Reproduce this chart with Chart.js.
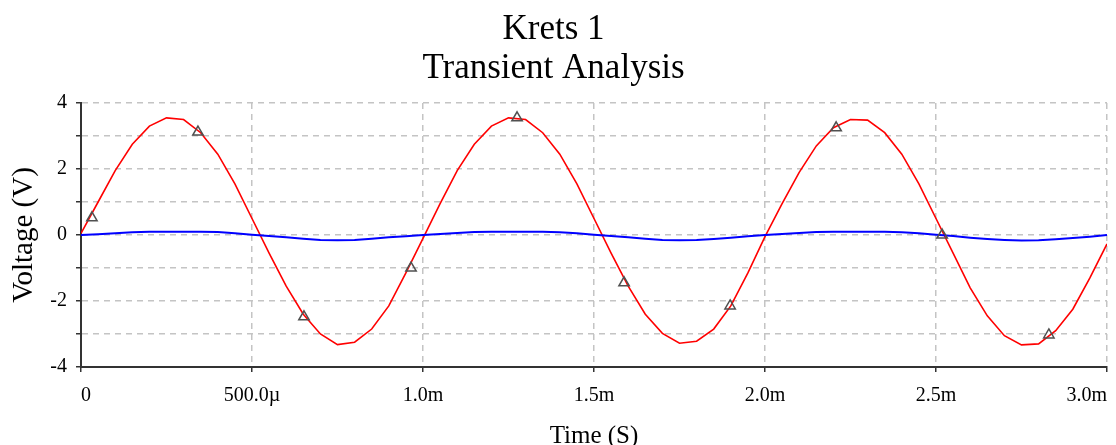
<!DOCTYPE html>
<html>
<head>
<meta charset="utf-8">
<script src="https://cdn.jsdelivr.net/npm/chart.js@4.4.1/dist/chart.umd.min.js"></script>
<style>
  html, body { margin: 0; padding: 0; background: #ffffff; }
  #wrap { width: 1116px; height: 445px; position: relative; }
</style>
</head>
<body>
<div id="wrap"><canvas id="c" width="1116" height="445"></canvas></div>
<script>
// ---- data ----
const TITLE_LINES = ['Krets 1', 'Transient Analysis'];
const X_TITLE = 'Time (S)';
const Y_TITLE = 'Voltage (V)';

// time in milliseconds
const TIME_MS = [
  0.00, 0.05, 0.10, 0.15, 0.20, 0.25, 0.30, 0.35, 0.40, 0.45,
  0.50, 0.55, 0.60, 0.65, 0.70, 0.75, 0.80, 0.85, 0.90, 0.95,
  1.00, 1.05, 1.10, 1.15, 1.20, 1.25, 1.30, 1.35, 1.40, 1.45,
  1.50, 1.55, 1.60, 1.65, 1.70, 1.75, 1.80, 1.85, 1.90, 1.95,
  2.00, 2.05, 2.10, 2.15, 2.20, 2.25, 2.30, 2.35, 2.40, 2.45,
  2.50, 2.55, 2.60, 2.65, 2.70, 2.75, 2.80, 2.85, 2.90, 2.95,
  3.00
];

// red trace (V)
const RED_V = [
  0.05, 1.00, 1.95, 2.75, 3.30, 3.55, 3.50, 3.10, 2.45, 1.55,
  0.50, -0.55, -1.55, -2.40, -3.00, -3.32, -3.25, -2.85, -2.15, -1.15,
  -0.10, 0.95, 1.95, 2.75, 3.30, 3.55, 3.50, 3.10, 2.45, 1.55,
  0.50, -0.55, -1.55, -2.40, -2.98, -3.28, -3.22, -2.85, -2.15, -1.15,
  -0.05, 0.95, 1.90, 2.70, 3.25, 3.50, 3.48, 3.10, 2.45, 1.55,
  0.50, -0.55, -1.60, -2.45, -3.05, -3.33, -3.30, -2.90, -2.25, -1.30,
  -0.27
];

// blue trace (V)
const BLUE_V = [
  0.00, 0.02, 0.05, 0.08, 0.10, 0.10, 0.10, 0.10, 0.09, 0.05,
  0.01, -0.03, -0.07, -0.11, -0.15, -0.16, -0.15, -0.11, -0.07, -0.04,
  0.00, 0.03, 0.06, 0.09, 0.10, 0.10, 0.10, 0.10, 0.08, 0.05,
  0.01, -0.03, -0.07, -0.11, -0.15, -0.16, -0.15, -0.12, -0.08, -0.04,
  0.00, 0.03, 0.06, 0.09, 0.10, 0.10, 0.10, 0.10, 0.08, 0.05,
  0.01, -0.03, -0.08, -0.12, -0.15, -0.17, -0.16, -0.13, -0.09, -0.05,
  0.00
];

// triangle markers on the red trace
const MARKER_TIME_MS = [0.032, 0.342, 0.652, 0.965, 1.275, 1.588, 1.898, 2.208, 2.518, 2.830];
const MARKER_V       = [0.52, 3.12, -2.48, -1.00, 3.55, -1.45, -2.15, 3.25, 0.00, -3.03];

const X_TICK_LABELS = ['0', '500.0\u00b5', '1.0m', '1.5m', '2.0m', '2.5m', '3.0m'];
const Y_LABELED_TICKS = [-4, -2, 0, 2, 4];

// ---- build chart ----
const toPts = (xs, ys) => xs.map((x, i) => ({ x: x, y: ys[i] }));

const SERIF = '"Liberation Serif", "Times New Roman", serif';

const yTitlePlugin = {
  id: 'yTitlePlugin',
  afterDraw(chart) {
    const { ctx, chartArea } = chart;
    ctx.save();
    ctx.translate(24, (chartArea.top + chartArea.bottom) / 2);
    ctx.rotate(-Math.PI / 2);
    ctx.font = '29px ' + SERIF;
    ctx.fillStyle = '#000000';
    ctx.textAlign = 'center';
    ctx.textBaseline = 'middle';
    ctx.fillText(Y_TITLE, 0, 0);
    ctx.restore();
  }
};

new Chart(document.getElementById('c'), {
  type: 'line',
  data: {
    datasets: [
      {
        label: 'markers',
        data: toPts(MARKER_TIME_MS, MARKER_V),
        showLine: false,
        pointStyle: 'triangle',
        pointRadius: 6,
        pointBorderWidth: 1.5,
        pointBorderColor: '#505050',
        pointBackgroundColor: 'rgba(0,0,0,0)',
        order: 0
      },
      {
        label: 'red',
        data: toPts(TIME_MS, RED_V),
        borderColor: '#ff0000',
        borderWidth: 1.6,
        pointRadius: 0,
        tension: 0,
        order: 2
      },
      {
        label: 'blue',
        data: toPts(TIME_MS, BLUE_V),
        borderColor: '#0000ff',
        borderWidth: 2,
        pointRadius: 0,
        tension: 0,
        order: 1
      }
    ]
  },
  options: {
    responsive: false,
    animation: false,
    events: [],
    layout: { padding: { left: 0, right: 9, top: 0, bottom: 0 } },
    plugins: {
      legend: { display: false },
      tooltip: { enabled: false },
      title: {
        display: true,
        text: TITLE_LINES,
        color: '#000000',
        font: { family: SERIF, size: 35, weight: 'normal', lineHeight: 39 / 35 },
        padding: { top: 10, bottom: 15 }
      }
    },
    scales: {
      x: {
        type: 'linear',
        min: 0,
        max: 3,
        afterBuildTicks(scale) {
          scale.ticks = X_TICK_LABELS.map((_, i) => ({ value: i * 0.5 }));
        },
        ticks: {
          autoSkip: false,
          maxRotation: 0,
          align: 'inner',
          padding: 12,
          color: '#000000',
          font: { family: SERIF, size: 20 },
          callback: (v, i) => X_TICK_LABELS[i]
        },
        grid: {
          color: '#c4c4c4',
          lineWidth: 1.5,
          tickLength: 5,
          tickColor: '#333333',
          tickWidth: 1.5,
          tickBorderDash: []
        },
        border: { display: true, color: '#333333', width: 2, dash: [6, 5] },
        title: {
          display: true,
          text: X_TITLE,
          color: '#000000',
          font: { family: SERIF, size: 25, lineHeight: 18 / 25 },
          padding: 0
        },
        afterFit(scale) {
          scale.height = 78;
          scale.paddingLeft = 0;
          scale.paddingRight = 0;
        }
      },
      y: {
        type: 'linear',
        min: -4,
        max: 4,
        ticks: {
          stepSize: 1,
          autoSkip: false,
          padding: 9,
          color: '#000000',
          font: { family: SERIF, size: 20 },
          callback: (v) => (Y_LABELED_TICKS.includes(v) ? String(v) : '')
        },
        grid: {
          color: '#c4c4c4',
          lineWidth: 1.5,
          tickLength: 5,
          tickColor: '#333333',
          tickWidth: 1.5,
          tickBorderDash: []
        },
        border: { display: true, color: '#333333', width: 2, dash: [6, 5] },
        title: { display: false },
        afterFit(scale) {
          scale.width = 81;
          scale.paddingTop = 0;
          scale.paddingBottom = 0;
        }
      }
    }
  },
  plugins: [yTitlePlugin]
});
</script>
</body>
</html>
